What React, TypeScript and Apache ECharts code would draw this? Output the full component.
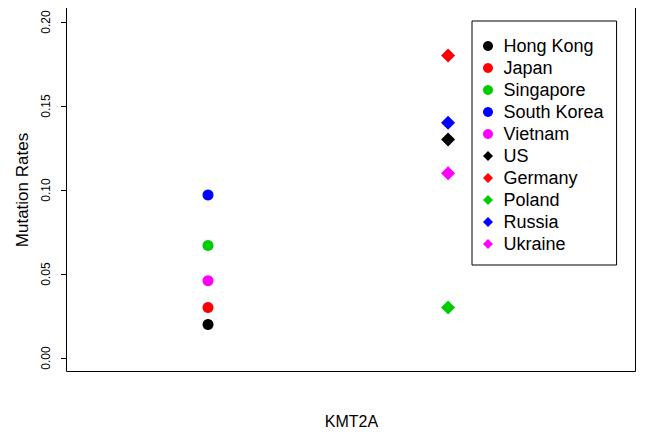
import React, { useEffect, useRef } from "react";
import * as echarts from "echarts";

const countries = ["Hong Kong", "Japan", "Singapore", "South Korea", "Vietnam", "US", "Germany", "Poland", "Russia", "Ukraine"];
const groupX = [1, 1, 1, 1, 1, 2, 2, 2, 2, 2];
const rates = [0.02, 0.03, 0.067, 0.097, 0.046, 0.13, 0.18, 0.03, 0.14, 0.11];
const colors = ["#000000", "#FF0000", "#00CD00", "#0000FF", "#FF00FF", "#000000", "#FF0000", "#00CD00", "#0000FF", "#FF00FF"];
const symbols = ["circle", "circle", "circle", "circle", "circle", "diamond", "diamond", "diamond", "diamond", "diamond"];
const yTicks = [0, 0.05, 0.1, 0.15, 0.2];

const FONT = "'Liberation Sans', Arial, Helvetica, sans-serif";
const DIAMOND_ICON = "path://M5,0L10,5L5,10L0,5Z";

export default function App() {
  const ref = useRef<HTMLDivElement>(null);
  useEffect(() => {
    if (!ref.current) return;
    const chart = echarts.init(ref.current, undefined, { renderer: "svg" });
    const series = countries.map((name, i) => ({
      name,
      type: "scatter",
      symbol: symbols[i],
      symbolSize: symbols[i] === "circle" ? 11 : 14,
      itemStyle: { color: colors[i], opacity: 1 },
      data: [[groupX[i], rates[i]]],
    }));
    chart.setOption({
      animation: false,
      backgroundColor: "#ffffff",
      textStyle: { fontFamily: FONT },
      grid: { left: 67, right: 9, top: 22, bottom: 79, containLabel: false },
      xAxis: {
        type: "value",
        min: 0.4125,
        max: 2.783,
        axisLine: { show: false },
        axisTick: { show: false },
        axisLabel: { show: false },
        splitLine: { show: false },
        name: "KMT2A",
        nameLocation: "middle",
        nameGap: 55,
        nameTextStyle: { fontSize: 16, color: "#000", fontFamily: FONT },
      },
      yAxis: {
        type: "value",
        min: yTicks[0],
        max: yTicks[yTicks.length - 1],
        interval: 0.05,
        axisLine: { show: false },
        axisTick: { show: true, inside: false, length: 6, lineStyle: { color: "#000" } },
        axisLabel: {
          rotate: 90,
          margin: 15,
          fontSize: 12,
          color: "#000",
          fontFamily: FONT,
          formatter: (v: number) => v.toFixed(2),
        },
        splitLine: { show: false },
        name: "Mutation Rates",
        nameLocation: "middle",
        nameGap: 36,
        nameTextStyle: { fontSize: 17, color: "#000", fontFamily: FONT },
      },
      legend: {
        orient: "vertical",
        left: 472,
        top: 21,
        padding: [16, 13, 12, 11],
        itemGap: 4,
        itemWidth: 21,
        itemHeight: 10,
        symbolKeepAspect: true,
        borderColor: "#000",
        borderWidth: 1,
        textStyle: { fontSize: 18, lineHeight: 18, color: "#000", fontFamily: FONT },
        data: countries.map((name, i) => ({
          name,
          icon: symbols[i] === "circle" ? "circle" : DIAMOND_ICON,
        })),
      },
      graphic: [
        {
          type: "rect",
          shape: { x: 66.5, y: 6.5, width: 569, height: 365 },
          style: { fill: "none", stroke: "#000", lineWidth: 1 },
          silent: true,
          z: 100,
        },
      ],
      series,
    });
    return () => chart.dispose();
  }, []);
  return <div ref={ref} style={{ width: 645, height: 437, margin: -8 }} />;
}
